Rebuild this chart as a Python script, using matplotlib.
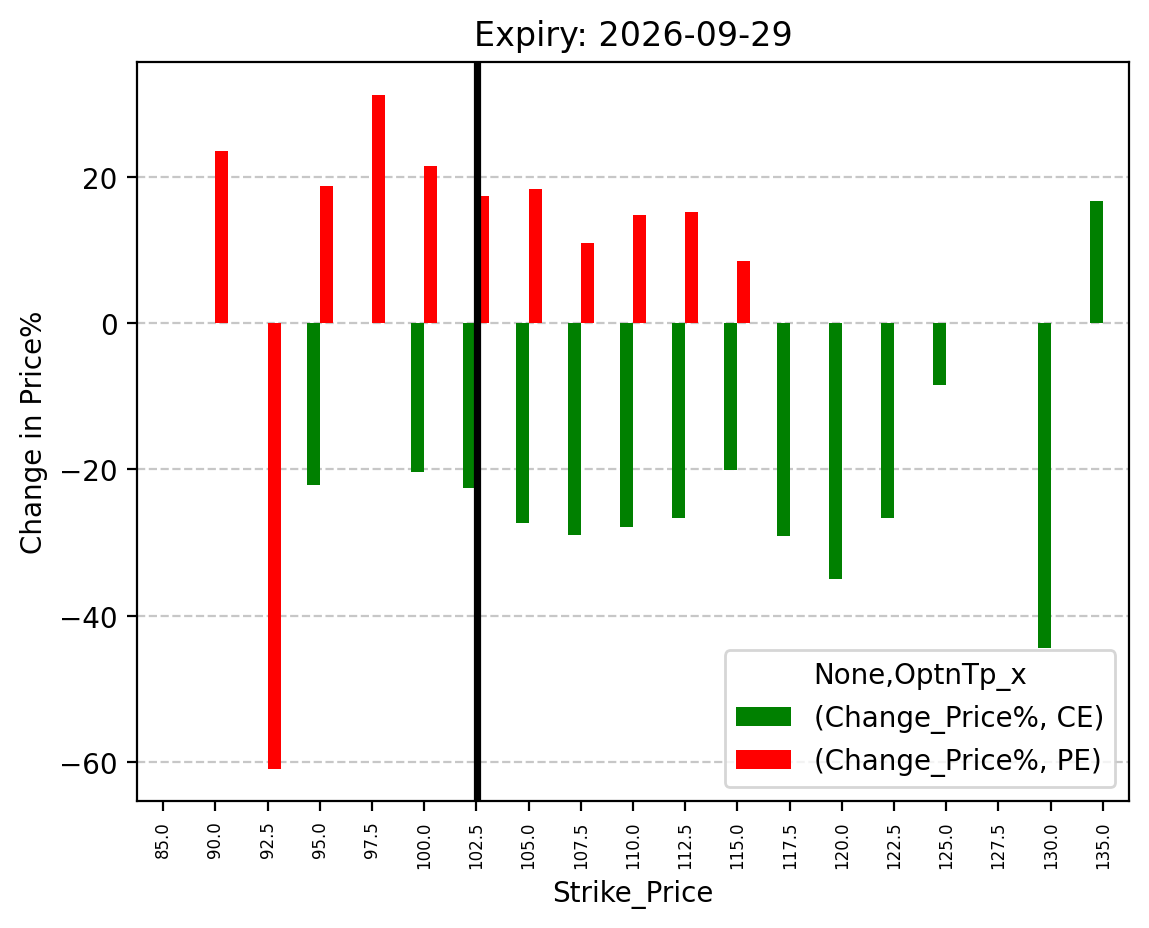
import numpy as np
import matplotlib
matplotlib.use("Agg")
import matplotlib.pyplot as plt

strikes = [85.0, 90.0, 92.5, 95.0, 97.5, 100.0, 102.5, 105.0, 107.5, 110.0,
           112.5, 115.0, 117.5, 120.0, 122.5, 125.0, 127.5, 130.0, 135.0]
nan = np.nan
ce_change = [nan, nan, nan, -22.1, nan, -20.3, -22.5, -27.3, -29.0, -27.9,
             -26.6, -20.1, -29.1, -35.0, -26.6, -8.4, nan, -44.5, 16.8]
pe_change = [nan, 23.6, -61.0, 18.8, 31.3, 21.6, 17.4, 18.4, 11.0, 14.8,
             15.3, 8.5, nan, nan, nan, nan, nan, nan, nan]
spot_strike = 102.5

fig = plt.figure(figsize=(1149 / 200, 929 / 200), dpi=200)
ax = fig.add_axes([137 / 1149, 1 - 802 / 929, 992 / 1149, 739 / 929])

x = np.arange(len(strikes))
w = 0.25
ax.bar(x - w / 2, ce_change, width=w, color="green", label="(Change_Price%, CE)")
ax.bar(x + w / 2, pe_change, width=w, color="red", label="(Change_Price%, PE)")

ax.set_xlim(-0.5, len(strikes) - 0.5)
ax.set_ylim(-65.4, 35.8)
ax.set_xticks(x)
ax.set_xticklabels([f"{s:.1f}" for s in strikes], rotation=90, fontsize=6)
ax.yaxis.grid(True, linestyle="--", alpha=0.7)
ax.set_axisbelow(True)
ax.axvline(strikes.index(spot_strike) + 0.02, color="black", linewidth=2.6)

ax.set_title("Expiry: 2026-09-29")
ax.set_xlabel("Strike_Price")
ax.set_ylabel("Change in Price%")
ax.legend(title="None,OptnTp_x", loc="lower right")

fig.savefig("out.png", dpi=200)
